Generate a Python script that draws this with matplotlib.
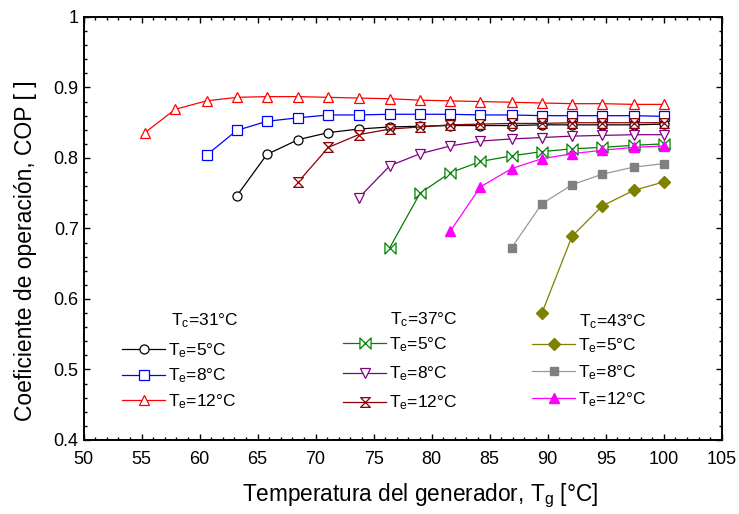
import matplotlib
matplotlib.use("Agg")
import matplotlib.pyplot as plt
from matplotlib.path import Path
from matplotlib.ticker import MultipleLocator, FormatStrFormatter

plt.rcParams["font.family"] = ["Liberation Sans", "DejaVu Sans"]
plt.rcParams["mathtext.fontset"] = "custom"
plt.rcParams["mathtext.rm"] = "Liberation Sans"
plt.rcParams["mathtext.it"] = "Liberation Sans:italic"

# generator temperature grid, degC
tg = [55.3, 57.9, 60.6, 63.2, 65.8, 68.5, 71.1, 73.7, 76.4,
      79.0, 81.6, 84.2, 86.9, 89.5, 92.1, 94.7, 97.4, 100.0]

# Tc = 31 C
cop_31_te5 = [0.746, 0.805, 0.826, 0.836, 0.841, 0.844, 0.845, 0.846, 0.846,
              0.846, 0.847, 0.847, 0.847, 0.847, 0.848]
cop_31_te8 = [0.804, 0.839, 0.852, 0.857, 0.861, 0.861, 0.862, 0.862, 0.862,
              0.861, 0.861, 0.860, 0.860, 0.860, 0.860, 0.859]
cop_31_te12 = [0.836, 0.869, 0.881, 0.886, 0.887, 0.887, 0.886, 0.885, 0.884,
               0.882, 0.881, 0.880, 0.879, 0.878, 0.877, 0.877, 0.876, 0.876]

# Tc = 37 C
cop_37_te5 = [0.673, 0.750, 0.779, 0.795, 0.803, 0.809, 0.813, 0.815, 0.818, 0.820]
cop_37_te8 = [0.743, 0.789, 0.806, 0.817, 0.824, 0.827, 0.829, 0.831, 0.832,
              0.833, 0.833]
cop_37_te12 = [0.766, 0.815, 0.833, 0.841, 0.844, 0.847, 0.848, 0.849, 0.849,
               0.850, 0.850, 0.850, 0.850]

# Tc = 43 C
cop_43_te5 = [0.580, 0.689, 0.732, 0.754, 0.766]
cop_43_te8 = [0.673, 0.735, 0.762, 0.777, 0.787, 0.792]
cop_43_te12 = [0.696, 0.759, 0.785, 0.799, 0.806, 0.811, 0.815, 0.817]

# custom markers: bowtie and hourglass
bowtie = Path([(-1, 1), (-1, -1), (1, 1), (1, -1), (-1, 1)],
              [Path.MOVETO, Path.LINETO, Path.LINETO, Path.LINETO, Path.CLOSEPOLY])
hourglass = Path([(-1, 1), (1, 1), (-1, -1), (1, -1), (-1, 1)],
                 [Path.MOVETO, Path.LINETO, Path.LINETO, Path.LINETO, Path.CLOSEPOLY])

fig = plt.figure(figsize=(7.39, 5.14), dpi=100)
ax = fig.add_axes([0.113, 0.144, 0.8637, 0.823])

lw = 0.9
open_kw = dict(markerfacecolor="white", markeredgewidth=0.9, linewidth=lw)


def series(y, **kw):
    x = tg[len(tg) - len(y):]
    return ax.plot(x, y, **kw)[0]


h31_5 = series(cop_31_te5, color="black", marker="o", markersize=6.5, **open_kw)
h31_8 = series(cop_31_te8, color="blue", marker="s", markersize=7, **open_kw)
h31_12 = series(cop_31_te12, color="red", marker="^", markersize=7.5, **open_kw)

h37_5 = series(cop_37_te5, color="#008000", marker=bowtie, markersize=8, **open_kw)
h37_8 = series(cop_37_te8, color="#800080", marker="v", markersize=7.5, **open_kw)
h37_12 = series(cop_37_te12, color="#8b0000", marker=hourglass, markersize=7, **open_kw)

h43_5 = series(cop_43_te5, color="#808000", marker="D", markersize=6, linewidth=lw)
h43_8 = series(cop_43_te8, color="#999999", marker="s", markersize=6,
               markerfacecolor="#808080", markeredgecolor="#808080", linewidth=lw)
h43_12 = series(cop_43_te12, color="magenta", marker="^", markersize=7.5, linewidth=lw)

ax.set_xlim(50, 105)
ax.set_ylim(0.4, 1.0)
ax.xaxis.set_major_locator(MultipleLocator(5))
ax.xaxis.set_minor_locator(MultipleLocator(1))
ax.yaxis.set_major_locator(MultipleLocator(0.1))
ax.yaxis.set_minor_locator(MultipleLocator(0.02))
ax.yaxis.set_major_formatter(FormatStrFormatter("%g"))
ax.tick_params(which="both", direction="in", top=True, right=True,
               labelsize=13, width=1.0)
ax.tick_params(which="major", length=4.5)
ax.tick_params(which="minor", length=2.5)
ax.tick_params(axis="x", which="major", pad=8)
ax.tick_params(axis="y", which="major", pad=3.5)
for sp in ax.spines.values():
    sp.set_linewidth(1.4)

ax.set_xlabel("Temperatura del generador, T$_\\mathrm{g}$ [°C]", fontsize=16.3)
ax.set_ylabel("Coeficiente de operación, COP [ ]", fontsize=16.5)
ax.xaxis.set_label_coords(0.527, -0.099)
ax.yaxis.set_label_coords(-0.073, 0.448)

W, H = 739, 514
leg_kw = dict(frameon=False, fontsize=12.5, handlelength=2.5, handletextpad=0.15,
              borderpad=0, borderaxespad=0, loc="center left",
              bbox_transform=fig.transFigure)
labels = ["T$_\\mathrm{e}$=5°C", "T$_\\mathrm{e}$=8°C", "T$_\\mathrm{e}$=12°C"]

leg1 = ax.legend([h31_5, h31_8, h31_12], labels, labelspacing=0.40,
                 bbox_to_anchor=(122 / W, 1 - 376 / H), **leg_kw)
ax.add_artist(leg1)
leg2 = ax.legend([h37_5, h37_8, h37_12], labels, labelspacing=0.60,
                 bbox_to_anchor=(343 / W, 1 - 374 / H), **leg_kw)
ax.add_artist(leg2)
leg3 = ax.legend([h43_5, h43_8, h43_12], labels, labelspacing=0.47,
                 bbox_to_anchor=(532 / W, 1 - 372.5 / H), **leg_kw)

fig.text(171 / W, 1 - 325 / H, "T$_\\mathrm{c}$=31°C", fontsize=12.5, va="baseline")
fig.text(390 / W, 1 - 324 / H, "T$_\\mathrm{c}$=37°C", fontsize=12.5, va="baseline")
fig.text(579 / W, 1 - 326 / H, "T$_\\mathrm{c}$=43°C", fontsize=12.5, va="baseline")

fig.savefig("out.png", dpi=100)
